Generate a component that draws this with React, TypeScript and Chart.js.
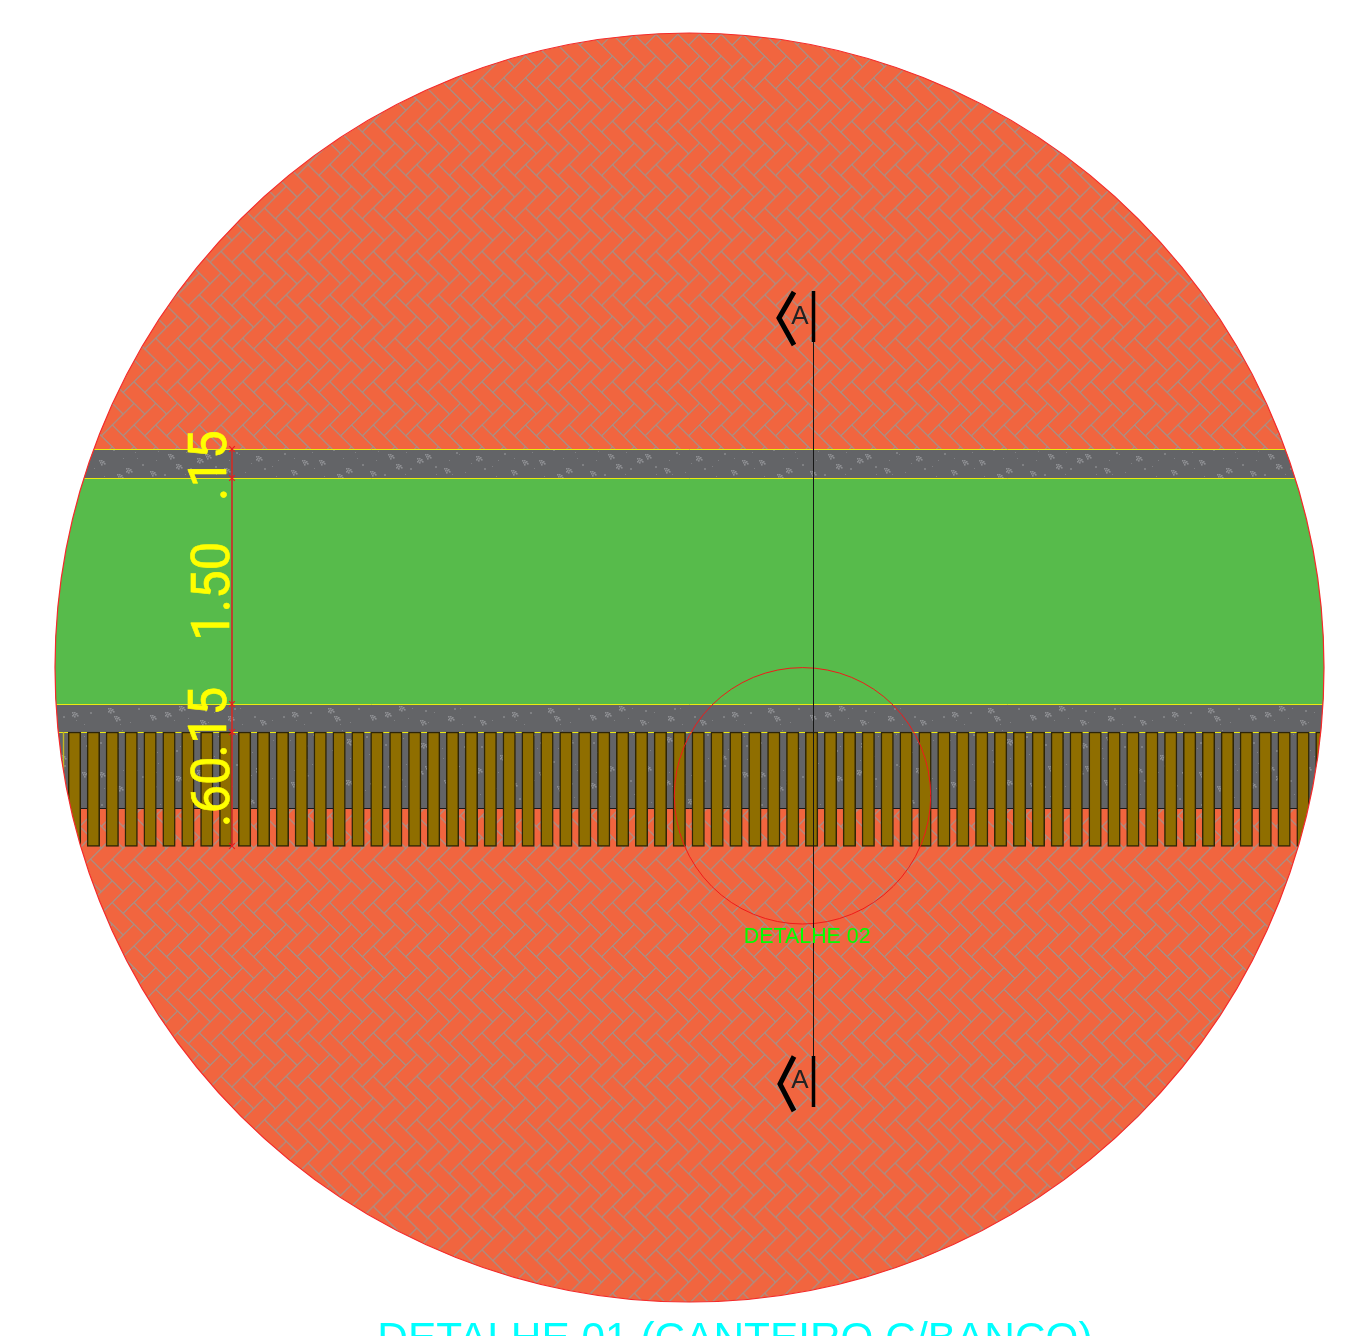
import React, { useEffect, useRef } from "react";
import { Chart, registerables } from "chart.js";

Chart.register(...registerables);

const canvasWidth = 1349;
const canvasHeight = 1336;

// Plan view, in drawing units measured on the reference
const planCentre = { x: 689.5, y: 667.5 };
const bandCentreX = [689.5];
const kerbTop = [449.5, 478.5];
const planting = [478.5, 704.5];
const kerbBottom = [704.5, 808.5];
const slatSpan = [732, 846.5];
const slatCentres = [
  74.5, 93.4, 112.3, 131.2, 150.1, 169, 187.9, 206.8, 225.7, 244.6, 263.5, 282.4, 301.3, 320.2, 339.1, 358,
  376.9, 395.8, 414.7, 433.6, 452.5, 471.4, 490.3, 509.2, 528.1, 547, 565.9, 584.8, 603.7, 622.6, 641.5, 660.4,
  679.3, 698.2, 717.1, 736, 754.9, 773.8, 792.7, 811.6, 830.5, 849.4, 868.3, 887.2, 906.1, 925, 943.9, 962.8,
  981.7, 1000.6, 1019.5, 1038.4, 1057.3, 1076.2, 1095.1, 1114, 1132.9, 1151.8, 1170.7, 1189.6, 1208.5, 1227.4,
  1246.3, 1265.2, 1284.1, 1303, 1321.9,
];
const yellowRules = [449.5, 478.5, 704.5, 732.5];
const blackRule = [808.5];
const ruleExtent = [40, 1340];
const dimensionX = 232;
const dimensionStops = [449, 478, 704, 732, 846];
const sectionLineX = 813.5;
const sectionLine = [342, 1056];
const sectionBars = [
  [291, 342],
  [1056, 1107],
];
const chevronTop = [
  [794, 292],
  [779, 318],
  [794, 345],
];
const chevronBottom = [
  [794, 1056.5],
  [780, 1084],
  [794, 1111],
];
const detailCircle = { x: 802.5, y: 795.8 };

const dimensionLabels = [".15", "1.50", ".15", ".60"];
const dimensionLabelAnchors = [
  [225.5, 501],
  [229, 641],
  [226, 757.5],
  [229, 827],
];
const markerLabel = "A";
const markerAnchors = [
  [800, 316.5],
  [800, 1080.5],
];
const detailLabel = "DETALHE 02";
const titleLabel = "DETALHE 01 (CANTEIRO C/BANCO)";

// Fixed speckle of the concrete texture: x, y, size
const specks = [
  [6, 9, 5], [19, 38, 1], [28, 71, 6], [37, 14, 1], [44, 52, 2], [52, 96, 1], [60, 27, 6], [67, 78, 1], [75, 6, 1],
  [82, 44, 5], [90, 88, 2], [97, 20, 1], [104, 60, 1], [113, 33, 2], [120, 100, 1], [127, 11, 7], [134, 69, 1],
  [142, 48, 2], [150, 91, 5], [157, 24, 1], [164, 58, 2], [172, 4, 1], [179, 82, 6], [186, 36, 1], [194, 66, 1],
  [201, 15, 6], [208, 98, 1], [215, 50, 2], [12, 58, 1], [34, 92, 2], [48, 30, 1], [71, 54, 5], [86, 17, 2],
  [108, 84, 6], [123, 42, 1], [146, 8, 2], [160, 76, 1], [176, 22, 2], [197, 42, 6], [211, 74, 1],
  [3, 30, 1], [14, 84, 2], [24, 18, 2], [31, 47, 1], [40, 66, 1], [47, 6, 2], [56, 60, 1], [63, 92, 2], [70, 12, 1],
  [79, 70, 2], [87, 31, 1], [94, 52, 1], [101, 76, 2], [110, 4, 1], [117, 58, 5], [130, 30, 1], [138, 84, 2],
  [145, 62, 1], [153, 14, 2], [168, 38, 5], [174, 96, 1], [183, 10, 1], [190, 52, 2], [205, 86, 2], [214, 28, 1],
  [9, 44, 1], [22, 100, 1], [43, 80, 1], [58, 44, 1], [76, 96, 1], [93, 6, 2], [118, 20, 1], [137, 42, 1],
  [156, 44, 1], [170, 68, 1], [188, 94, 1], [200, 32, 1], [218, 8, 1],
  [2, 20, 1], [16, 6, 1], [32, 24, 1], [41, 18, 2], [53, 12, 1], [68, 21, 1], [84, 8, 1], [100, 14, 2], [112, 22, 1],
  [139, 20, 1], [149, 26, 1], [165, 16, 2], [180, 18, 1], [193, 6, 1], [210, 22, 1], [26, 4, 2], [58, 4, 1], [122, 2, 1],
  [4, 52, 5], [16, 36, 2], [25, 56, 1], [36, 40, 6], [52, 50, 1], [64, 37, 2], [74, 42, 1], [92, 36, 1], [99, 44, 5],
  [126, 52, 6], [135, 36, 1], [150, 55, 5], [158, 35, 1], [176, 48, 6], [185, 58, 1], [205, 38, 5], [216, 58, 1],
  [8, 92, 6], [20, 84, 1], [40, 96, 5], [72, 88, 6], [84, 100, 1], [114, 92, 5], [130, 98, 1], [165, 88, 6], [192, 84, 1],
  [200, 96, 5], [214, 88, 1],
];
const clusterOffsets = [
  [0, 0], [2, 0], [4, 1], [1, 2], [3, 2], [2, 4], [5, 3], [0, 3], [3, 5],
];

function herringbone(): CanvasPattern {
  const tile = document.createElement("canvas");
  tile.width = 87;
  tile.height = 87;
  const c = tile.getContext("2d")!;
  c.fillStyle = "#f1653f";
  c.fillRect(0, 0, 87, 87);
  const W = 87 / 4 / Math.SQRT2;
  const L = 87 / 2 / Math.SQRT2;
  c.strokeStyle = "#aa9085";
  c.lineWidth = 1;
  c.translate(3.5, 34.4);
  c.rotate(-Math.PI / 4);
  for (let i = -12; i <= 12; i++) {
    for (let j = -12; j <= 12; j++) {
      const ox = i * W + j * L - (L + W);
      const oy = i * W - j * L - (W - L);
      c.strokeRect(ox, oy, L, W);
      c.strokeRect(ox + L, oy + W - L, W, L);
    }
  }
  const pattern = document.createElement("canvas").getContext("2d")!.createPattern(tile, "repeat")!;
  pattern.setTransform(new DOMMatrix([1, 0, 0, 0.9979, 0, 0]));
  return pattern;
}

function concrete(): CanvasPattern {
  const tile = document.createElement("canvas");
  tile.width = 220;
  tile.height = 104;
  const c = tile.getContext("2d")!;
  c.fillStyle = "#636467";
  c.fillRect(0, 0, 220, 104);
  for (const [x, y, s] of specks) {
    if (s >= 5) {
      c.fillStyle = "#8e8f92";
      clusterOffsets.slice(0, s + 2).forEach(([dx, dy]) => c.fillRect(x + dx, y + dy, 1.6, 1.6));
    } else {
      c.fillStyle = "#7f8083";
      c.fillRect(x, y, s, s);
    }
  }
  return document.createElement("canvas").getContext("2d")!.createPattern(tile, "repeat")!;
}

export default function App() {
  const ref = useRef<HTMLCanvasElement>(null);

  useEffect(() => {
    const paving = herringbone();
    const grey = concrete();
    const line = (points: number[][], color: string, width: number, clipToPlan = false) => ({
      type: "line",
      data: points.map(([x, y]) => ({ x, y })),
      borderColor: color,
      borderWidth: width,
      pointRadius: 0,
      tension: 0,
      clipToPlan,
    });
    const layers: any[] = [
      {
        type: "scatter",
        data: [planCentre],
        pointRadius: 634.5,
        pointBackgroundColor: paving,
        pointBorderWidth: 0,
      },
      {
        type: "bar",
        data: bandCentreX.map((x) => ({ x, y: kerbTop })),
        backgroundColor: grey,
        barThickness: 1300,
        grouped: false,
        clipToPlan: true,
      },
      {
        type: "bar",
        data: bandCentreX.map((x) => ({ x, y: planting })),
        backgroundColor: "#57bb4b",
        barThickness: 1300,
        grouped: false,
        clipToPlan: true,
      },
      {
        type: "bar",
        data: bandCentreX.map((x) => ({ x, y: kerbBottom })),
        backgroundColor: grey,
        barThickness: 1300,
        grouped: false,
        clipToPlan: true,
      },
      ...yellowRules.map((y) => line(ruleExtent.map((x) => [x, y]), "#eaea10", 1, true)),
      ...blackRule.map((y) => line(ruleExtent.map((x) => [x, y]), "#1a1a1a", 1, true)),
      line([[63.5, 732], [63.5, 770]], "#c4b820", 1.4, true),
      {
        type: "bar",
        data: slatCentres.map((x) => ({ x, y: slatSpan })),
        backgroundColor: "#8f6e00",
        borderColor: "#2e2506",
        borderWidth: 1.5,
        borderSkipped: false,
        barThickness: 12.5,
        grouped: false,
        clipToPlan: true,
      },
      {
        type: "scatter",
        data: [planCentre],
        pointRadius: 634.5,
        pointBackgroundColor: "rgba(0,0,0,0)",
        pointBorderColor: "#f42a2a",
        pointBorderWidth: 1.2,
      },
      line(dimensionStops.map((y) => [dimensionX, y]), "#c9302a", 1),
      {
        type: "scatter",
        data: dimensionStops.map((y) => ({ x: dimensionX, y })),
        pointStyle: "crossRot",
        pointRadius: 4,
        pointBorderColor: "#ee1c1c",
        pointBorderWidth: 1.2,
      },
      {
        type: "scatter",
        data: [detailCircle],
        pointRadius: 128.2,
        pointBackgroundColor: "rgba(0,0,0,0)",
        pointBorderColor: "#f01a1a",
        pointBorderWidth: 1,
      },
      line(sectionLine.map((y) => [sectionLineX, y]), "#161616", 1),
      ...sectionBars.map((b) => line(b.map((y) => [sectionLineX, y]), "#000000", 3.5)),
      line(chevronTop, "#000000", 5),
      line(chevronBottom, "#000000", 5),
    ];
    layers.forEach((d, i) => {
      d.order = layers.length - i;
    });

    const planClip = {
      id: "planClip",
      beforeDatasetDraw(chart: any, args: any) {
        if (!chart.data.datasets[args.index].clipToPlan) return;
        const { x, y } = chart.scales;
        const c = chart.ctx;
        c.save();
        c.beginPath();
        c.arc(x.getPixelForValue(planCentre.x), y.getPixelForValue(planCentre.y), 634.5, 0, Math.PI * 2);
        c.clip();
      },
      afterDatasetDraw(chart: any, args: any) {
        if (chart.data.datasets[args.index].clipToPlan) chart.ctx.restore();
      },
    };

    const labelsPlugin = {
      id: "drawingText",
      afterDatasetsDraw(chart: any) {
        const { x, y } = chart.scales;
        const c = chart.ctx;
        c.save();
        c.textBaseline = "alphabetic";
        c.textAlign = "left";
        c.fillStyle = "#ffff00";
        c.strokeStyle = "#ffff00";
        c.lineWidth = 0.6;
        c.font = "51px Roboto";
        dimensionLabels.forEach((text, i) => {
          const [ax, ay] = dimensionLabelAnchors[i];
          c.save();
          c.translate(x.getPixelForValue(ax), y.getPixelForValue(ay));
          c.rotate(-Math.PI / 2);
          c.scale(1, 1.05);
          c.fillText(text, 0, 0);
          c.strokeText(text, 0, 0);
          c.restore();
        });
        c.textAlign = "center";
        c.textBaseline = "middle";
        c.fillStyle = "#222222";
        c.font = '26px "Liberation Sans"';
        markerAnchors.forEach(([ax, ay]) => {
          c.fillText(markerLabel, x.getPixelForValue(ax), y.getPixelForValue(ay));
        });
        c.fillStyle = "#00ff00";
        c.font = '21.4px "Liberation Sans"';
        c.fillText(detailLabel, x.getPixelForValue(807.2), y.getPixelForValue(936.7));
        c.textBaseline = "alphabetic";
        c.fillStyle = "#00ffff";
        c.font = '42.4px "Liberation Sans"';
        c.fillText(titleLabel, x.getPixelForValue(735), y.getPixelForValue(1352));
        c.restore();
      },
    };

    const chart = new Chart(ref.current!, {
      type: "bar",
      data: { datasets: layers },
      plugins: [planClip, labelsPlugin],
      options: {
        animation: false,
        responsive: false,
        events: [],
        layout: { padding: 0, autoPadding: false },
        plugins: { legend: { display: false }, title: { display: false }, tooltip: { enabled: false } },
        scales: {
          x: { type: "linear", min: 0, max: canvasWidth, display: false, offset: false },
          y: { type: "linear", min: 0, max: canvasHeight, reverse: true, display: false },
        },
      },
    } as any);
    return () => chart.destroy();
  }, []);

  return (
    <canvas
      ref={ref}
      width={canvasWidth}
      height={canvasHeight}
      style={{ position: "absolute", left: 0, top: 0, display: "block", background: "#ffffff" }}
    />
  );
}
